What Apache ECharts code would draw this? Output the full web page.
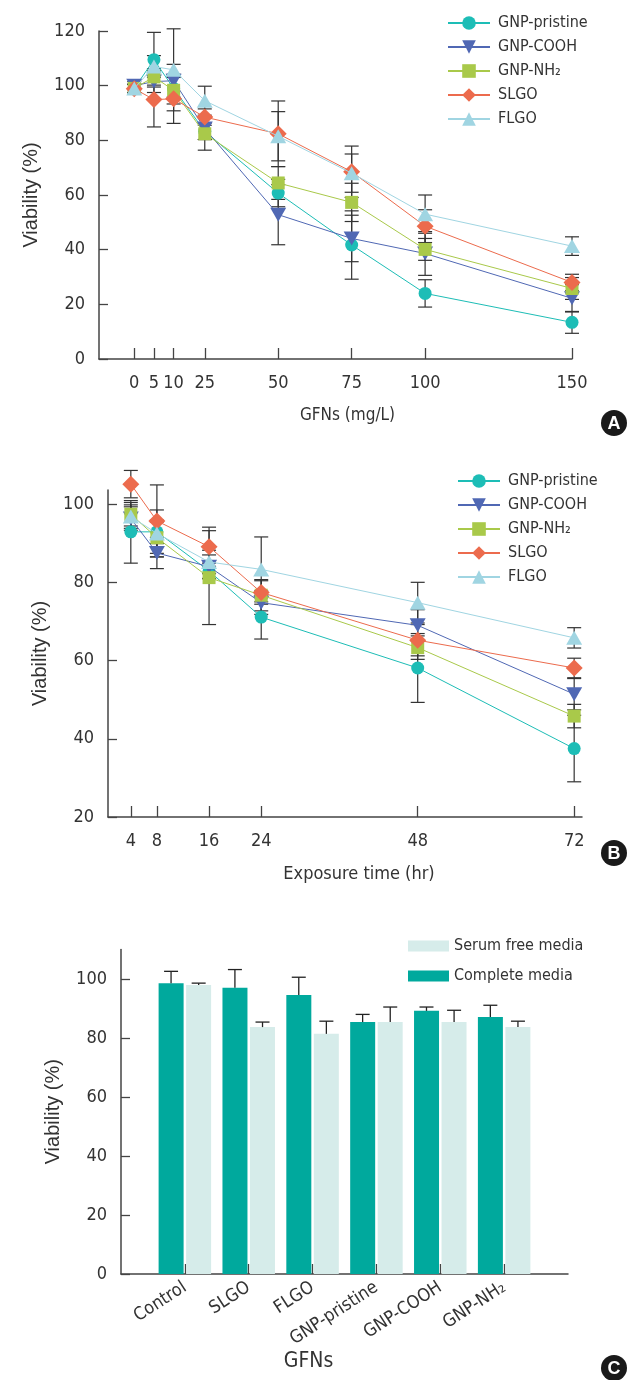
<!DOCTYPE html>
<html>
<head>
<meta charset="utf-8">
<script src="https://cdn.jsdelivr.net/npm/echarts@6/dist/echarts.min.js"></script>
<style>
html, body { margin: 0; padding: 0; background: #fff; }
#main { width: 629px; height: 1380px; }
</style>
</head>
<body>
<div id="main"></div>
<script>
// --- data ---
const seriesNames = ['GNP-pristine', 'GNP-COOH', 'GNP-NH\u2082', 'SLGO', 'FLGO'];

// panel A: dose (mg/L); low doses were spread out on the original axis
const doseLabels = ['0', '5', '10', '25', '50', '75', '100', '150'];
const dosePos = [1, 7.7, 14.4, 25, 50, 75, 100, 150];
const viaA = [
    [99, 109.5, 99, 83.3, 60.7, 41.7, 24, 13.4],
    [100, 101.5, 101.8, 84.3, 52.8, 44.1, 38.6, 22.2],
    [99, 103.2, 98.3, 82.4, 64.4, 57.3, 40.1, 25.8],
    [98.9, 94.9, 95.2, 88.5, 82.4, 68.5, 48.6, 28],
    [99, 107, 105.8, 94.5, 81.5, 68, 53, 41.3]
];
const sdA = [
    [1.5, 10, 4, 3, 5, 12.5, 5, 4],
    [1.5, 4, 6, 4, 11, 8.5, 8, 5],
    [1.5, 3, 5, 6, 6, 7, 4, 4],
    [1.5, 10, 9, 3, 12, 9.4, 6, 3],
    [1.5, 4, 15, 5.3, 9, 7, 7, 3.4]
];

// panel B: exposure time (hr)
const hours = [4, 8, 16, 24, 48, 72];
const viaB = [
    [92.9, 92.9, 82.9, 71.1, 58.1, 37.5],
    [96.3, 87.5, 84, 74.8, 69, 51.4],
    [97.4, 91.4, 81.2, 76.7, 63.3, 45.8],
    [105.1, 95.7, 89.1, 77.4, 65.2, 58.1],
    [96.8, 92.5, 85.2, 83.3, 74.8, 65.8]
];
const sdB = [
    [8, 3, 2, 5.6, 8.8, 8.5],
    [3, 4, 3, 3, 4, 4],
    [3, 4, 12, 4, 3, 3],
    [3.5, 9.2, 5, 3, 4, 2.5],
    [3, 6, 3, 8.3, 5.2, 2.6]
];

// panel C: media comparison
const gfns = ['Control', 'SLGO', 'FLGO', 'GNP-pristine', 'GNP-COOH', 'GNP-NH\u2082'];
const completeMedia = [98.6, 97.0, 94.6, 85.4, 89.2, 87.1];
const completeSd = [4.0, 6.2, 6.0, 2.6, 1.3, 4.0];
const serumFree = [98.0, 83.7, 81.4, 85.4, 85.4, 83.7];
const serumFreeSd = [0.6, 1.7, 4.3, 5.1, 4.0, 2.0];

const yTicksA = [0, 20, 40, 60, 80, 100, 120];
const yTicksB = [20, 40, 60, 80, 100];
const yTicksC = [0, 20, 40, 60, 80, 100];

// --- styling ---
const NARROW = "'Liberation Sans Narrow', 'DejaVu Sans Condensed', sans-serif";
const WIDE = "'Liberation Sans', 'DejaVu Sans', sans-serif";
const INK = '#333';
const AXIS = '#444';
const colors = ['#1dbdb6', '#5068b4', '#a9c94a', '#ec6b4d', '#a0d5e2'];
const symbols = ['circle', 'triangle', 'rect', 'diamond', 'triangle'];
const symbolSizes = [13, [16, 14], 13, 17, [16, 14]];
const rotates = [0, 180, 0, 0, 0];

const chart = echarts.init(document.getElementById('main'));

function errorBars(params, api) {
    const x = api.value(0);
    const top = api.coord([x, api.value(2)]);
    const bot = api.coord([x, api.value(1)]);
    const w = 7;
    const st = { stroke: INK, lineWidth: 1.2 };
    return {
        type: 'group',
        children: [
            { type: 'line', shape: { x1: top[0], y1: top[1], x2: bot[0], y2: bot[1] }, style: st },
            { type: 'line', shape: { x1: top[0] - w, y1: top[1], x2: top[0] + w, y2: top[1] }, style: st },
            { type: 'line', shape: { x1: bot[0] - w, y1: bot[1], x2: bot[0] + w, y2: bot[1] }, style: st }
        ]
    };
}

function barErrors(params, api) {
    const c = api.coord([api.value(0), api.value(2)]);
    const base = api.coord([api.value(0), api.value(1)]);
    const dx = api.value(3) * 13.8;
    const w = 7;
    const st = { stroke: '#222', lineWidth: 1.3 };
    return {
        type: 'group',
        children: [
            { type: 'line', shape: { x1: c[0] + dx, y1: c[1], x2: c[0] + dx, y2: base[1] }, style: st },
            { type: 'line', shape: { x1: c[0] + dx - w, y1: c[1], x2: c[0] + dx + w, y2: c[1] }, style: st }
        ]
    };
}

function yAxisCfg(grid, min, max, ticks) {
    return {
        type: 'value', gridIndex: grid, min: min, max: max,
        name: 'Viability (%)', nameLocation: 'middle', nameGap: 58,
        nameTextStyle: { fontFamily: WIDE, fontSize: 20, color: INK },
        axisLine: { show: true, onZero: false, lineStyle: { color: AXIS, width: 1.5 } },
        axisTick: { show: true, inside: true, length: 9, lineStyle: { color: AXIS, width: 1.3 }, customValues: ticks },
        axisLabel: { customValues: ticks, margin: 14, fontFamily: NARROW, fontSize: 18, color: INK },
        splitLine: { show: false }
    };
}

const series = [];
[[viaA, sdA, dosePos, 0], [viaB, sdB, hours, 1]].forEach(([vals, sds, xs, g]) => {
    seriesNames.forEach((n, i) => {
        series.push({
            type: 'line', name: n, xAxisIndex: g, yAxisIndex: g,
            data: xs.map((x, j) => [x, vals[i][j]]),
            symbol: symbols[i], symbolSize: symbolSizes[i], symbolRotate: rotates[i],
            lineStyle: { width: 1, color: colors[i] },
            itemStyle: { color: colors[i] },
            clip: false, z: 3 + i
        });
    });
    const errs = [];
    seriesNames.forEach((n, i) => {
        xs.forEach((x, j) => errs.push([x, vals[i][j] - sds[i][j], vals[i][j] + sds[i][j]]));
    });
    series.push({
        type: 'custom', xAxisIndex: g, yAxisIndex: g, renderItem: errorBars,
        data: errs, clip: false, z: 2, silent: true
    });
});

const catsC = [''].concat(gfns, ['']);
const pad = arr => [null].concat(arr, [null]);
series.push({
    type: 'bar', name: 'Complete media', xAxisIndex: 2, yAxisIndex: 2,
    data: pad(completeMedia), barWidth: 25, barGap: '10%',
    itemStyle: { color: '#00a99d' }, z: 2
});
series.push({
    type: 'bar', name: 'Serum free media', xAxisIndex: 2, yAxisIndex: 2,
    data: pad(serumFree), barWidth: 25, barGap: '10%',
    itemStyle: { color: '#d6ecea' }, z: 2
});
const errsC = [];
gfns.forEach((g, k) => {
    errsC.push([k + 1, completeMedia[k], completeMedia[k] + completeSd[k], -1]);
    errsC.push([k + 1, serumFree[k], serumFree[k] + serumFreeSd[k], 1]);
});
series.push({
    type: 'custom', xAxisIndex: 2, yAxisIndex: 2, renderItem: barErrors,
    data: errsC, z: 3, silent: true
});

const legendBase = {
    orient: 'vertical', itemWidth: 42, itemHeight: 17, itemGap: 8,
    lineStyle: { width: 2 },
    textStyle: { fontFamily: NARROW, fontSize: 16, color: INK, padding: [0, 0, 0, 3] },
    data: seriesNames, selectedMode: false
};

const badge = (t, x, y) => ({
    type: 'group', x: x, y: y,
    children: [
        { type: 'circle', shape: { cx: 0, cy: 0, r: 13 }, style: { fill: '#1a1a1a' } },
        { type: 'text', style: { text: t, x: 0, y: 1, align: 'center', verticalAlign: 'middle', fill: '#fff', font: "bold 18px 'Liberation Sans', sans-serif" } }
    ]
});

const option = {
    animation: false,
    backgroundColor: '#fff',
    grid: [
        { left: 99, top: 31, width: 473, height: 328 },
        { left: 108, top: 490, width: 474, height: 327 },
        { left: 121, top: 949.5, width: 447, height: 324.5 }
    ],
    legend: [
        Object.assign({}, legendBase, { left: 442, top: 10 }),
        Object.assign({}, legendBase, { left: 452, top: 468 }),
        {
            orient: 'vertical', left: 403, top: 933, itemWidth: 41, itemHeight: 11, itemGap: 14,
            icon: 'rect',
            textStyle: { fontFamily: NARROW, fontSize: 16, color: INK },
            data: ['Serum free media', 'Complete media'], selectedMode: false
        }
    ],
    xAxis: [
        {
            type: 'value', gridIndex: 0, min: -11, max: 150,
            name: 'GFNs (mg/L)', nameLocation: 'middle', nameGap: 48,
            nameTextStyle: { fontFamily: NARROW, fontSize: 17, color: INK, padding: [0, 0, 0, 24] },
            axisLine: { onZero: false, lineStyle: { color: AXIS, width: 1.5 } },
            axisTick: { inside: true, length: 11, lineStyle: { color: AXIS, width: 1.3 }, customValues: dosePos },
            axisLabel: {
                customValues: dosePos, margin: 15, fontFamily: NARROW, fontSize: 18, color: INK,
                formatter: v => {
                    let k = 0;
                    dosePos.forEach((p, i) => { if (Math.abs(p - v) < Math.abs(dosePos[k] - v)) k = i; });
                    return doseLabels[k];
                }
            },
            splitLine: { show: false }
        },
        {
            type: 'value', gridIndex: 1, min: 0.5, max: 73.2,
            name: 'Exposure time (hr)', nameLocation: 'middle', nameGap: 48,
            nameTextStyle: { fontFamily: NARROW, fontSize: 18, color: INK, padding: [0, 0, 0, 28] },
            axisLine: { onZero: false, lineStyle: { color: AXIS, width: 1.5 } },
            axisTick: { inside: true, length: 11, lineStyle: { color: AXIS, width: 1.3 }, customValues: hours },
            axisLabel: { customValues: hours, margin: 15, fontFamily: NARROW, fontSize: 18, color: INK },
            splitLine: { show: false }
        },
        {
            type: 'category', gridIndex: 2, data: catsC, boundaryGap: false,
            name: 'GFNs', nameLocation: 'middle', nameGap: 76,
            nameTextStyle: { fontFamily: NARROW, fontSize: 21, color: INK, padding: [0, 72, 0, 0] },
            axisLine: { onZero: false, lineStyle: { color: AXIS, width: 1.5 } },
            axisTick: { inside: true, length: 10, interval: i => i > 0 && i < catsC.length - 1, lineStyle: { color: AXIS, width: 1.3 } },
            axisLabel: { interval: 0, rotate: 33, margin: 12, fontFamily: NARROW, fontSize: 18, color: INK },
            splitLine: { show: false }
        }
    ],
    yAxis: [
        yAxisCfg(0, 0, 120, yTicksA),
        yAxisCfg(1, 20, 103.6, yTicksB),
        yAxisCfg(2, 0, 110, yTicksC)
    ],
    series: series,
    graphic: [badge('A', 614, 423), badge('B', 614, 853), badge('C', 614, 1368)]
};

option && chart.setOption(option);
</script>
</body>
</html>
